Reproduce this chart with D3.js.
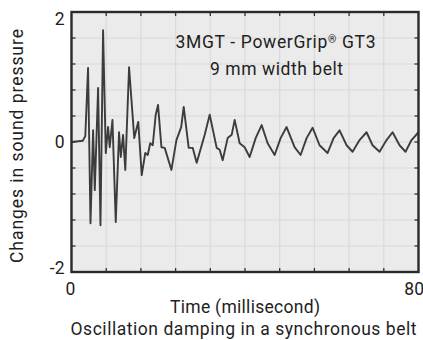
<!DOCTYPE html>
<html>
<head>
<meta charset="utf-8">
<script src="https://cdn.jsdelivr.net/npm/d3@7"></script>
<style>
  body { margin: 0; background: #fff; }
  text { font-family: Roboto, "DejaVu Sans", sans-serif; fill: #1e1e1e; }
</style>
</head>
<body>
<div id="chart"></div>
<script>
// time in ms, sound pressure change
const timeMs = [0, 2.6, 3.18, 3.82, 4.38, 4.98, 5.37, 6.13, 6.68, 7.28, 7.9, 8.43, 8.82, 9.44,
  10.2, 10.96, 11.36, 11.89, 12.4, 13.27, 14.47, 15.39, 16.19, 17.0, 17.58, 18.15, 18.73,
  19.42, 19.95, 20.73, 21.49, 23.04, 24.19, 25.29, 25.87, 27.02, 27.94, 28.86, 30.71, 31.86,
  33.47, 34.16, 34.85, 36.0, 36.93, 37.62, 38.77, 39.92, 41.07, 42.46, 43.84, 45.22, 46.83,
  48.21, 49.59, 51.43, 52.82, 54.2, 55.58, 57.19, 59.03, 60.42, 61.8, 63.42, 64.8, 66.41,
  68.02, 69.41, 71.02, 72.63, 74.02, 75.63, 77.01, 78.39, 80]
const pressure = [0, 0.02, 0.09, 1.14, -1.25, 0.18, -0.74, 0.83, -1.28, 1.72, -0.17, 0.23, -0.08, 0.34,
  -1.23, 0.15, -0.23, 0.11, -0.43, 1.15, 0.06, 0.31, -0.51, -0.17, -0.2, -0.02, -0.05,
  0.42, 0.57, -0.08, -0.09, -0.43, 0.03, 0.23, 0.54, -0.09, -0.09, -0.32, 0.11, 0.42,
  -0.09, -0.12, -0.28, 0.06, 0.11, 0.34, -0.02, -0.08, -0.23, 0.06, 0.26, -0.02, -0.2,
  0.06, 0.23, -0.08, -0.2, 0.06, 0.22, -0.05, -0.17, 0.06, 0.18, -0.05, -0.15, 0.03,
  0.15, -0.05, -0.15, 0.03, 0.15, -0.05, -0.15, 0.03, 0.15]
const xTickLabels = [0, 80]
const yTickLabels = [-2, 0, 2]
const titleLines = ["9 mm width belt"]

const W = 423, H = 340
const m = { left: 71.5, right: 4.5, top: 12, bottom: 68 }

const svg = d3.select("#chart").append("svg")
    .attr("width", W)
    .attr("height", H)

const x = d3.scaleLinear().domain([0, 80]).range([m.left, W - m.right])
const y = d3.scaleLinear().domain([-2, 2]).range([H - m.bottom, m.top])

// plot background
svg.append("rect")
    .attr("x", x(0)).attr("y", y(2))
    .attr("width", x(80) - x(0)).attr("height", y(-2) - y(2))
    .attr("fill", "#ebebeb")

// grid every 8 ms / 0.4
const gx = d3.range(0, 80.01, 8)
const gy = d3.range(-2, 2.01, 0.4)
svg.append("g").selectAll("line").data(gx.slice(1, -1)).enter().append("line")
    .attr("x1", d => x(d)).attr("x2", d => x(d))
    .attr("y1", y(2)).attr("y2", y(-2))
    .attr("stroke", "#dadada").attr("stroke-width", 1.2)
svg.append("g").selectAll("line").data(gy.slice(1, -1)).enter().append("line")
    .attr("y1", d => y(d)).attr("y2", d => y(d))
    .attr("x1", x(0)).attr("x2", x(80))
    .attr("stroke", "#dadada").attr("stroke-width", 1.2)

// inward ticks on all four sides
const tk = 4
let ticks = svg.append("g").attr("stroke", "#333").attr("stroke-width", 1.3)
gx.slice(1, -1).forEach(function (d) {
    ticks.append("line").attr("x1", x(d)).attr("x2", x(d)).attr("y1", y(-2)).attr("y2", y(-2) - tk)
    ticks.append("line").attr("x1", x(d)).attr("x2", x(d)).attr("y1", y(2)).attr("y2", y(2) + tk)
})
gy.slice(1, -1).forEach(function (d) {
    ticks.append("line").attr("y1", y(d)).attr("y2", y(d)).attr("x1", x(0)).attr("x2", x(0) + tk)
    ticks.append("line").attr("y1", y(d)).attr("y2", y(d)).attr("x1", x(80)).attr("x2", x(80) - tk)
})

// the signal
const line = d3.line()
    .x(d => x(d[0]))
    .y(d => y(d[1]))
svg.append("path")
    .datum(d3.zip(timeMs, pressure))
    .attr("d", line)
    .attr("fill", "none")
    .attr("stroke", "#3c3c3c")
    .attr("stroke-width", 1.9)
    .attr("stroke-linejoin", "round")

// frame
svg.append("rect")
    .attr("x", x(0)).attr("y", y(2))
    .attr("width", x(80) - x(0)).attr("height", y(-2) - y(2))
    .attr("fill", "none").attr("stroke", "#2a2a2a").attr("stroke-width", 2.4)

// tick labels
svg.append("g").selectAll("text").data(yTickLabels).enter().append("text")
    .attr("x", x(0) - 7)
    .attr("y", d => d === 2 ? y(d) + 13 : d === -2 ? y(d) + 2 : y(d) + 6)
    .attr("text-anchor", "end")
    .attr("font-size", 17.5)
    .text(d => d)
svg.append("g").selectAll("text").data(xTickLabels).enter().append("text")
    .attr("x", d => d === 0 ? x(d) - 1 : W + 1)
    .attr("y", y(-2) + 23)
    .attr("text-anchor", d => d === 0 ? "middle" : "end")
    .attr("font-size", 17.5)
    .text(d => d)

// axis titles
svg.append("text")
    .attr("x", 245).attr("y", 313)
    .attr("text-anchor", "middle").attr("font-size", 17.5)
    .attr("textLength", 150).attr("lengthAdjust", "spacing")
    .text("Time (millisecond)")
svg.append("text")
    .attr("x", 243.5).attr("y", 335)
    .attr("text-anchor", "middle").attr("font-size", 17.5)
    .attr("textLength", 346).attr("lengthAdjust", "spacing")
    .text("Oscillation damping in a synchronous belt")
svg.append("text")
    .attr("transform", "translate(23,146) rotate(-90)")
    .attr("text-anchor", "middle").attr("font-size", 17.5)
    .attr("textLength", 234).attr("lengthAdjust", "spacing")
    .text("Changes in sound pressure")

// annotation
let t1 = svg.append("text")
    .attr("x", 275.5).attr("y", 48)
    .attr("text-anchor", "middle").attr("font-size", 17.5)
    .attr("textLength", 200).attr("lengthAdjust", "spacing")
t1.append("tspan").text("3MGT - PowerGrip")
t1.append("tspan").attr("font-size", 10.5).attr("dy", -5).text("®")
t1.append("tspan").attr("dy", 5).text(" GT3")
svg.append("g").selectAll("text").data(titleLines).enter().append("text")
    .attr("x", 276.5).attr("y", 75)
    .attr("text-anchor", "middle").attr("font-size", 17.5)
    .attr("textLength", 133).attr("lengthAdjust", "spacing")
    .text(d => d)
</script>
</body>
</html>
